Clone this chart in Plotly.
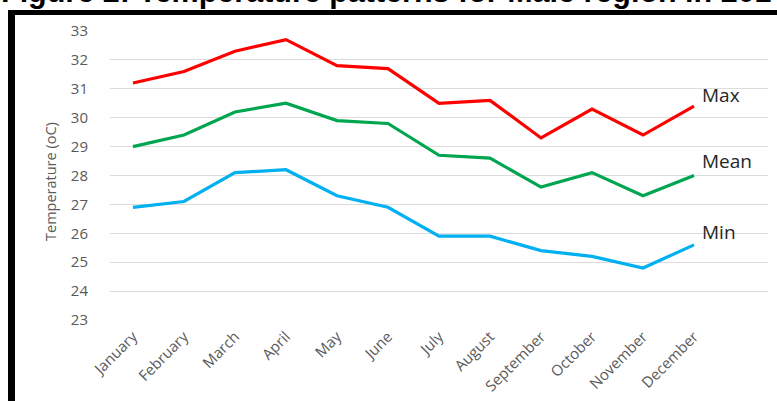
import plotly.graph_objects as go

months = ["January", "February", "March", "April", "May", "June", "July",
          "August", "September", "October", "November", "December"]
t_max = [31.2, 31.6, 32.3, 32.7, 31.8, 31.7, 30.5, 30.6, 29.3, 30.3, 29.4, 30.4]
t_mean = [29.0, 29.4, 30.2, 30.5, 29.9, 29.8, 28.7, 28.6, 27.6, 28.1, 27.3, 28.0]
t_min = [26.9, 27.1, 28.1, 28.2, 27.3, 26.9, 25.9, 25.9, 25.4, 25.2, 24.8, 25.6]
series_names = ["Max", "Mean", "Min"]
y_ticks = list(range(23, 34))

W, H = 777, 401
L, R, T, B = 110, 9, 31, 81
pw, ph = W - L - R, H - T - B

def px(x):
    return (x - L) / pw

def py(y):
    return (H - B - y) / ph

colors = ["#ff0000", "#00a550", "#00b0f0"]
idx = list(range(len(months)))

fig = go.Figure()
for name, vals, c in zip(series_names, [t_max, t_mean, t_min], colors):
    fig.add_trace(go.Scatter(x=idx, y=vals, mode="lines", name=name,
                             line=dict(color=c, width=3.2), showlegend=False))

label_y = [30.8, 28.5, 26.05]
for name, ly in zip(series_names, label_y):
    fig.add_annotation(x=11.12, y=ly, text=name, showarrow=False, xanchor="left",
                       yanchor="middle", font=dict(family="Open Sans", size=19, color="#262626"))

# Title (cut off at top of the scan)
fig.add_annotation(xref="paper", yref="paper", x=px(-1), y=py(11), xanchor="left", yanchor="bottom",
                   text="<b>Figure 2: Temperature patterns for Male region in 2014</b>", showarrow=False,
                   font=dict(family="Liberation Sans", size=30.5, color="#000000"))

# Black frame of the scan
fig.add_shape(type="rect", xref="paper", yref="paper", x0=px(8), x1=px(15), y0=py(401), y1=py(10),
              fillcolor="#000000", line=dict(width=0), layer="above")
fig.add_shape(type="rect", xref="paper", yref="paper", x0=px(8), x1=px(777), y0=py(15), y1=py(10),
              fillcolor="#000000", line=dict(width=0), layer="above")

fig.update_layout(
    width=W, height=H,
    margin=dict(l=L, r=R, t=T, b=B, autoexpand=False),
    paper_bgcolor="white", plot_bgcolor="white",
    xaxis=dict(range=[-0.45, 12.45], tickmode="array", tickvals=idx, ticktext=months,
               tickangle=-45, showgrid=False, zeroline=False, showline=False, automargin=False,
               ticks="outside", ticklen=1, tickcolor="rgba(0,0,0,0)",
               tickfont=dict(family="Open Sans", size=15, color="#595959")),
    yaxis=dict(range=[23, 33], tickmode="array", tickvals=y_ticks, automargin=False,
               showgrid=True, gridcolor="#dcdcdc", gridwidth=1, zeroline=False, showline=False,
               ticks="outside", ticklen=18, tickcolor="rgba(0,0,0,0)",
               tickfont=dict(family="Open Sans", size=15, color="#595959")),
)
fig.add_annotation(xref="paper", yref="paper", x=px(50), y=py(182), text="Temperature (oC)",
                   textangle=-90, showarrow=False, xanchor="center", yanchor="middle",
                   font=dict(family="Open Sans", size=14.5, color="#595959"))

fig.write_html("out.html", config={"displayModeBar": False},
               post_script="document.body.style.margin='0';document.body.style.overflow='hidden';")
